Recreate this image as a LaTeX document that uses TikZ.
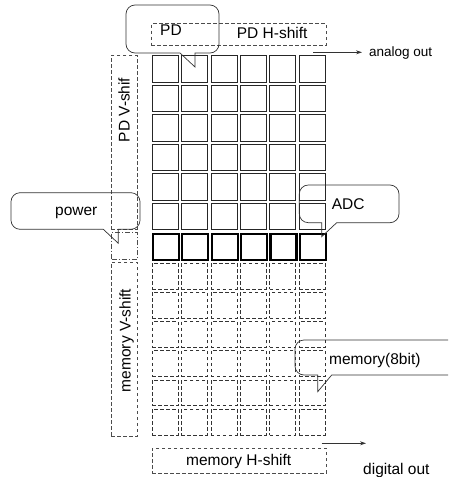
\documentclass[tikz,border=0pt]{standalone}
\usepackage{fontspec}
\setmainfont{Liberation Sans}
\usetikzlibrary{arrows.meta}
\begin{document}
\begin{tikzpicture}[x=1pt,y=-1pt,>={Stealth[length=6pt,width=4pt]},
  cell/.style={draw=black!85,line width=0.9pt,inner sep=0pt,anchor=north west,minimum width=26pt,minimum height=26.5pt},
  adccell/.style={cell,draw=black,line width=2.2pt},
  memcell/.style={cell,draw=black!80,line width=0.7pt,dash pattern=on 3.5pt off 2.5pt,minimum height=25.8pt},
  shiftbox/.style={draw=black!70,line width=0.8pt,dash pattern=on 3.5pt off 2.5pt,inner sep=0pt,anchor=north west},
  callout/.style={draw=black!80,line width=0.7pt},
  lbl/.style={font=\fontsize{15.5}{18}\selectfont,inner sep=0pt}]
\useasboundingbox (0,0) rectangle (448,477);
\clip (0,0) rectangle (448,477);
% pixel array, ADC row and memory
\foreach \i in {0,...,5}{
  \foreach \j in {0,...,5}{
    \node[cell] (pd-\i-\j) at ({151.7+29.4*\j},{55+29.5*\i}) {};
    \node[memcell] (mem-\i-\j) at ({151.7+29.4*\j},{262.7+29.2*\i}) {};
  }
}
\foreach \j in {0,...,5}
  \node[adccell] (adc-\j) at ({151.7+29.4*\j},232.7) {};
% shift registers
\node[shiftbox,minimum width=174.7pt,minimum height=21.7pt] (pdh) at (151,23.3) {};
\node[shiftbox,minimum width=25.5pt,minimum height=174pt] (pdv) at (111,55) {};
\node[shiftbox,dash pattern=on 5pt off 2pt on 1pt off 2pt,line width=1pt,minimum width=25.7pt,minimum height=27.3pt] (pwr) at (111,231.7) {};
\node[shiftbox,minimum width=25.7pt,minimum height=174.3pt] (memv) at (111,261.7) {};
\node[shiftbox,minimum width=174pt,minimum height=25pt] (memh) at (151.7,447.7) {};
\node[lbl,anchor=base west] (pdhtext) at (236.7,38.5) {PD H-shift};
\node[lbl,rotate=90] (pdvtext) at (124.2,110) {PD V-shif};
\node[lbl,rotate=90] (memvtext) at (126.5,340.5) {memory V-shift};
\node[lbl,anchor=base] (memhtext) at (238.7,465.5) {memory H-shift};
% outputs
\coordinate (aostart) at (313.3,52.3);
\coordinate (aoend) at (362,52.3);
\draw[->,black!80,line width=0.8pt] (aostart) -- (aoend);
\node[lbl,font=\fontsize{13.5}{16}\selectfont,anchor=base west] (analog) at (369,56) {analog out};
\coordinate (dostart) at (321.7,443.3);
\coordinate (doend) at (366,443.3);
\draw[->,black!80,line width=0.8pt] (dostart) -- (doend);
\node[lbl,anchor=base west] (digital) at (363,474) {digital out};
% callouts
\draw[callout] (195,67) -- (180,53) [rounded corners=9pt] -- (126,53) -- (126,5) -- (219,5) -- (219,53) [sharp corners] -- (195,53) -- cycle;
\node[lbl,anchor=base west] (pdlbl) at (160,35) {PD};
\draw[callout] (118.3,243.3) -- (103.3,229.3) [rounded corners=9pt] -- (11,229.3) -- (11,192.7) -- (140,192.7) -- (140,229.3) [sharp corners] -- (118.3,229.3) -- cycle;
\node[lbl,anchor=base west] (pwrlbl) at (55,215) {power};
\draw[callout] (321.7,236.7) -- (321.7,222.7) [rounded corners=9pt] -- (299.3,222.7) -- (299.3,185) -- (399,185) -- (399,222.7) [sharp corners] -- (336.7,222.7) -- cycle;
\node[lbl,anchor=base west] (adclbl) at (331.7,209.3) {ADC};
\draw[callout] (317.7,391.7) -- (317.7,375) [rounded corners=9pt] -- (295,375) -- (295,340) -- (470,340) -- (470,375) [sharp corners] -- (331.7,375) -- cycle;
\node[lbl,anchor=base west] (memlbl) at (329,364.3) {memory(8bit)};
\end{tikzpicture}
\end{document}
